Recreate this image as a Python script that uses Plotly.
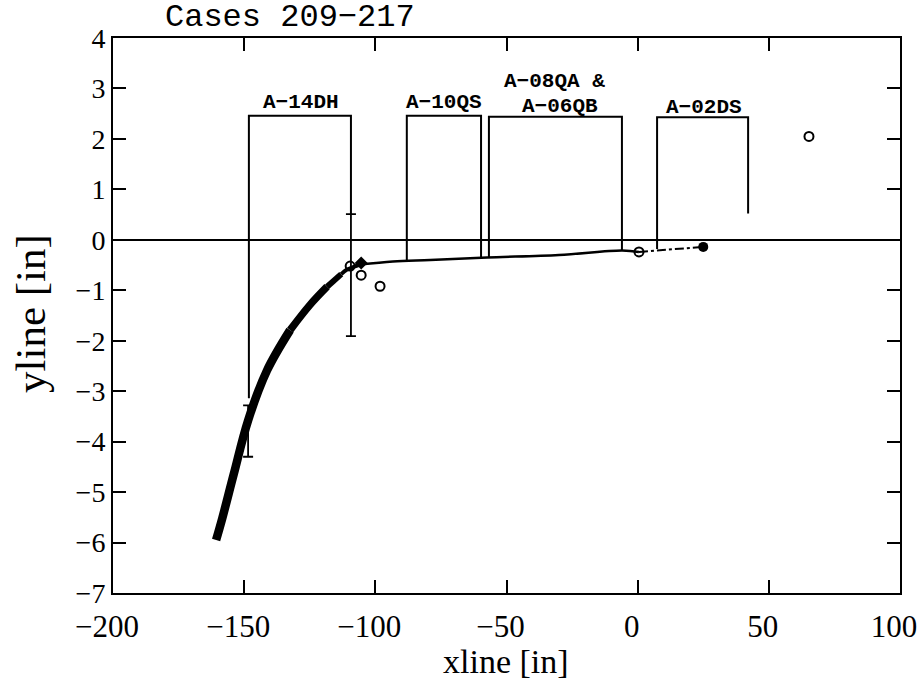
import plotly.graph_objects as go

# ---------------- data ----------------
title_text = "Cases 209\u2212217"

# fitted curve (thick band on the left, thin to the right)
curve_x = [-160.7, -158.4, -154.0, -148.5, -141.3, -132.5, -124.9, -118.4, -113.0, -110.8,
           -105.8, -93.3, -79.1, -57.4, -30.0, -5.9, 0.5]
curve_y = [-5.95, -5.53, -4.65, -3.58, -2.59, -1.79, -1.29, -0.93, -0.68, -0.59,
           -0.49, -0.43, -0.40, -0.35, -0.30, -0.21, -0.24]
# (start index, end index, line width) of curve pieces, thick to thin
curve_pieces = [(0, 5, 8.5), (5, 7, 7.5), (7, 8, 6.0), (8, 10, 4.0), (10, 16, 2.5)]

# dash-dot extension
ext_x = [0.5, 25.0]
ext_y = [-0.24, -0.14]

# component boxes
box_left = [-148.2, -88.0, -56.7, 7.4]
box_right = [-109.3, -59.7, -6.0, 42.1]
box_top = [2.46, 2.46, 2.44, 2.43]
box_left_bottom = [-3.14, -0.43, -0.35, -0.18]
box_right_bottom = [0.50, -0.36, -0.21, 0.52]

# box labels
label_text = ["A\u221214DH", "A\u221210QS", "A\u221208QA &", "A\u221206QB", "A\u221202DS"]
label_x = [-128.5, -73.8, -31.6, -29.5, 25.3]
label_y = [2.73, 2.73, 3.13, 2.65, 2.62]

# error bars
err_x = [-148.5, -109.3]
err_center = [-3.79, -0.70]
err_half = [0.51, 1.21]

# open circles
open_x = [-109.6, -105.4, -98.2, 0.5, 65.3]
open_y = [-0.52, -0.70, -0.92, -0.24, 2.05]
# filled diamond
diam_x = [-105.4]
diam_y = [-0.46]
# filled circle
fill_x = [25.0]
fill_y = [-0.14]

x_ticks = [-200, -150, -100, -50, 0, 50, 100]
y_ticks = [4, 3, 2, 1, 0, -1, -2, -3, -4, -5, -6, -7]

# ---------------- figure ----------------
W, H = 919, 683
ML, MR, MT, MB = 113, 19, 38, 90
PW, PH = W - ML - MR, H - MT - MB


def px_x(page_x):
    return (page_x - ML) / PW


def px_y(page_y):
    return 1 - (page_y - MT) / PH


fig = go.Figure()

# boxes
for i in range(len(box_left)):
    fig.add_trace(go.Scatter(
        x=[box_left[i], box_left[i], box_right[i], box_right[i]],
        y=[box_left_bottom[i], box_top[i], box_top[i], box_right_bottom[i]],
        mode="lines", line=dict(color="black", width=2), hoverinfo="skip"))

for i in range(len(label_text)):
    fig.add_annotation(x=label_x[i], y=label_y[i], text=label_text[i], showarrow=False,
                       font=dict(family="Liberation Mono", size=21, color="black", weight="bold"),
                       xanchor="center", yanchor="middle")

# curve pieces
for a, b, w in curve_pieces:
    fig.add_trace(go.Scatter(x=curve_x[a:b + 1], y=curve_y[a:b + 1], mode="lines",
                             line=dict(color="black", width=w, shape="spline"),
                             hoverinfo="skip"))
fig.add_trace(go.Scatter(x=ext_x, y=ext_y, mode="lines",
                         line=dict(color="black", width=2, dash="dashdot"), hoverinfo="skip"))

# error bars
fig.add_trace(go.Scatter(x=err_x, y=err_center, mode="markers",
                         marker=dict(size=1, color="rgba(0,0,0,0)"),
                         error_y=dict(type="data", array=err_half, color="black",
                                      thickness=1.8, width=5),
                         hoverinfo="skip"))

# markers
fig.add_trace(go.Scatter(x=open_x, y=open_y, mode="markers",
                         marker=dict(symbol="circle-open", size=9, color="black",
                                     line=dict(width=2, color="black"))))
fig.add_trace(go.Scatter(x=diam_x, y=diam_y, mode="markers",
                         marker=dict(symbol="diamond", size=10, color="black")))
fig.add_trace(go.Scatter(x=fill_x, y=fill_y, mode="markers",
                         marker=dict(symbol="circle", size=10, color="black")))

# title and axis titles as paper annotations
fig.add_annotation(xref="paper", yref="paper", x=px_x(163), y=px_y(38),
                   text=title_text, showarrow=False, xanchor="left", yanchor="bottom",
                   font=dict(family="Liberation Mono", size=32, color="black"))
fig.add_annotation(xref="paper", yref="paper", x=px_x(506), y=px_y(661),
                   text="xline [in]", showarrow=False, xanchor="center", yanchor="middle",
                   font=dict(family="Liberation Serif", size=34, color="black"))
fig.add_annotation(xref="paper", yref="paper", x=px_x(30), y=px_y(314),
                   text="yline [in]", showarrow=False, xanchor="center", yanchor="middle",
                   textangle=-90,
                   font=dict(family="Liberation Serif", size=43, color="black"))

fig.update_layout(
    width=W, height=H,
    margin=dict(l=ML, r=MR, t=MT, b=MB, autoexpand=False),
    paper_bgcolor="white", plot_bgcolor="white",
    showlegend=False,
    xaxis=dict(range=[-200, 100], tickvals=x_ticks,
               ticks="inside", ticklen=13, tickwidth=1.5,
               tickcolor="black", showline=True, linecolor="black", linewidth=2, mirror="ticks",
               showgrid=False, zeroline=False, automargin=False, ticklabeloverflow="allow",
               ticklabelstandoff=5, ticklabelshift=-6,
               tickfont=dict(family="Liberation Serif", size=31, color="black")),
    yaxis=dict(range=[-7, 4], tickvals=y_ticks, ticks="inside", ticklen=13, tickwidth=1.5,
               tickcolor="black", showline=True, linecolor="black", linewidth=2, mirror="ticks",
               showgrid=False, zeroline=True, zerolinecolor="black", zerolinewidth=1.8,
               automargin=False,
               tickfont=dict(family="Liberation Serif", size=28, color="black")),
)

fig.write_html("out.html", config={"displayModeBar": False},
               post_script="document.body.style.margin='0px';")
